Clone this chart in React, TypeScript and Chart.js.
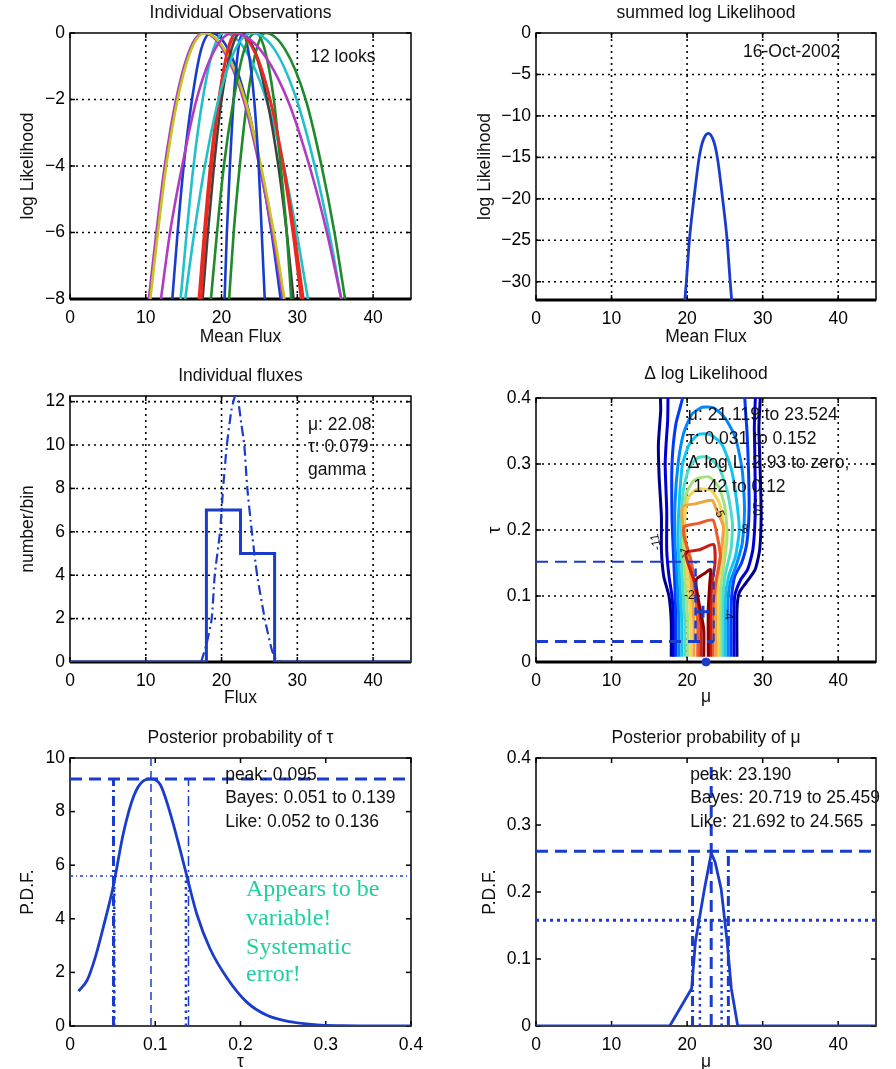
import React, { useEffect, useRef } from 'react';
import { Chart, registerables } from 'chart.js';

Chart.register(...registerables);

const SANS = '"Liberation Sans", Arial, Helvetica, sans-serif';
const SERIF = '"Liberation Serif", "Times New Roman", serif';
const FS = 17.5;
const BLUE = '#1a3ccc';

// ---------- Panel 1: Individual Observations ----------
const obsLevels = [-8, -6, -4, -2, -0.5, 0, -0.5, -2, -4, -6, -8];
const obsColors = ['#1a3ccc', '#1f8a2a', '#e82a20', '#22c0c8', '#b03cc0', '#c4c41e', '#404040', '#1a3ccc', '#1f8a2a', '#e82a20', '#22c0c8', '#b03cc0'];
const obsX = [
  [13.5, 14.2, 15.0, 16.1, 17.3, 18.6, 20.9, 23.2, 25.1, 26.6, 27.8],
  [21.0, 21.6, 22.4, 23.4, 24.6, 25.8, 28.4, 31.1, 33.2, 34.9, 36.3],
  [17.0, 17.7, 18.5, 19.6, 20.9, 22.2, 24.3, 26.4, 28.1, 29.4, 30.5],
  [14.6, 15.4, 16.3, 17.5, 18.9, 20.3, 23.1, 25.9, 28.2, 29.9, 31.4],
  [10.4, 11.4, 12.5, 14.0, 15.8, 17.6, 20.2, 22.9, 25.0, 26.7, 28.1],
  [10.6, 11.6, 12.7, 14.2, 16.0, 17.8, 20.4, 23.1, 25.2, 26.9, 28.3],
  [17.5, 18.2, 19.0, 20.0, 21.3, 22.5, 24.3, 26.0, 27.5, 28.6, 29.5],
  [20.4, 20.7, 21.1, 21.6, 22.2, 22.8, 23.5, 24.3, 24.9, 25.3, 25.7],
  [18.6, 19.4, 20.3, 21.6, 23.0, 24.5, 25.7, 26.9, 27.8, 28.6, 29.2],
  [17.3, 17.9, 18.7, 19.7, 20.8, 22.0, 24.2, 26.4, 28.2, 29.6, 30.8],
  [15.2, 16.4, 17.8, 19.6, 21.8, 24.0, 27.0, 29.9, 32.3, 34.2, 35.8],
  [12.0, 13.2, 14.8, 16.7, 19.1, 21.5, 25.1, 28.7, 31.6, 33.9, 35.8],
];

// ---------- Panel 2: summed log Likelihood ----------
const sumX = [19.7, 19.9, 20.3, 20.9, 21.6, 22.1, 22.8, 23.5, 24.0, 24.7, 25.3, 25.7, 25.9];
const sumY = [-32.2, -30, -25, -20, -15, -13, -12.1, -13, -15, -20, -25, -30, -32.2];

// ---------- Panel 3: Individual fluxes ----------
const histEdges = [18, 22.5, 27];
const histCounts = [7, 5];
const gammaX = [17.3, 18.0, 18.7, 19.1, 19.8, 20.2, 20.7, 21.3, 21.8, 22.2, 22.6, 23.0, 23.4, 24.0, 24.7, 25.7, 26.6, 27.2, 28.0];
const gammaY = [0, 0.8, 2, 4, 6, 8, 10, 11.6, 12.26, 12.0, 11.0, 10, 8, 6, 4, 2, 0.6, 0.1, 0];

// ---------- Panel 4: Delta log Likelihood contours ----------
const contourColors = ['#00008f', '#0000d6', '#0038ff', '#0088ff', '#12c4f2', '#4ddcc8', '#a6e27c', '#f2d45a', '#f4a33c', '#ea5a2c', '#cc1c14', '#8c0000'];
const contour1 = [[17.9, 0.008], [17.9, 0.06], [17.6, 0.10], [16.9, 0.13], [16.6, 0.17], [16.6, 0.22], [16.3, 0.28], [16.2, 0.33], [16.5, 0.38], [16.9, 0.5], [29.2, 0.5], [29.5, 0.35], [29.7, 0.28], [29.8, 0.22], [29.6, 0.17], [29.0, 0.14], [27.8, 0.12], [26.9, 0.105], [26.6, 0.08], [26.6, 0.008]];
const contour2 = [[18.2, 0.008], [18.2, 0.06], [18.0, 0.10], [17.6, 0.13], [17.3, 0.17], [17.3, 0.23], [17.1, 0.30], [17.4, 0.36], [18.4, 0.5], [28.5, 0.5], [28.9, 0.35], [29.0, 0.28], [29.0, 0.22], [28.7, 0.17], [28.0, 0.14], [27.1, 0.125], [26.3, 0.10], [26.2, 0.06], [26.2, 0.008]];
const contour3 = [[18.5, 0.008], [18.5, 0.06], [18.4, 0.11], [18.2, 0.16], [18.0, 0.22], [18.0, 0.30], [18.5, 0.36], [19.4, 0.40], [21.0, 0.5], [26.5, 0.5], [27.8, 0.37], [28.1, 0.30], [28.2, 0.23], [27.9, 0.18], [27.2, 0.15], [26.3, 0.13], [25.9, 0.10], [25.8, 0.06], [25.8, 0.008]];
const contour4 = [[18.9, 0.008], [18.9, 0.06], [18.7, 0.12], [18.4, 0.18], [18.4, 0.24], [18.8, 0.30], [19.5, 0.345], [20.6, 0.375], [22.0, 0.386], [23.5, 0.385], [25.0, 0.37], [26.4, 0.34], [27.3, 0.29], [27.6, 0.23], [27.3, 0.18], [26.6, 0.15], [25.7, 0.12], [25.4, 0.09], [25.4, 0.008]];
const contour5 = [[19.3, 0.008], [19.3, 0.06], [19.0, 0.13], [18.8, 0.19], [19.0, 0.25], [19.4, 0.30], [20.3, 0.33], [21.5, 0.345], [23.0, 0.345], [24.6, 0.33], [25.9, 0.29], [26.6, 0.24], [26.9, 0.20], [26.4, 0.16], [25.5, 0.13], [25.0, 0.09], [25.0, 0.008]];
const contour6 = [[19.7, 0.008], [19.7, 0.06], [19.3, 0.14], [19.2, 0.20], [19.5, 0.26], [20.3, 0.295], [21.5, 0.31], [22.8, 0.31], [24.2, 0.295], [25.3, 0.26], [26.0, 0.21], [25.8, 0.17], [25.0, 0.13], [24.7, 0.09], [24.7, 0.008]];
const contour7 = [[20.1, 0.008], [20.1, 0.06], [19.6, 0.15], [19.5, 0.21], [19.9, 0.255], [20.9, 0.275], [22.0, 0.28], [23.0, 0.28], [24.2, 0.265], [25.0, 0.235], [25.3, 0.19], [24.9, 0.15], [24.4, 0.11], [24.4, 0.008]];
const contour8 = [[20.5, 0.008], [20.5, 0.06], [19.9, 0.16], [19.7, 0.22], [20.2, 0.25], [21.3, 0.262], [22.3, 0.262], [23.2, 0.26], [24.3, 0.24], [24.9, 0.20], [24.7, 0.16], [24.1, 0.12], [24.1, 0.008]];
const contour9 = [[20.9, 0.008], [20.9, 0.06], [20.2, 0.16], [19.5, 0.20], [19.4, 0.235], [21.2, 0.24], [23.3, 0.245], [23.9, 0.23], [24.8, 0.205], [24.4, 0.16], [23.8, 0.12], [23.8, 0.008]];
const contour10 = [[21.4, 0.008], [21.4, 0.06], [20.6, 0.15], [19.6, 0.19], [19.6, 0.205], [21.5, 0.21], [23.4, 0.215], [24.0, 0.19], [24.4, 0.16], [23.8, 0.12], [23.4, 0.08], [23.4, 0.008]];
const contour11 = [[21.8, 0.008], [21.8, 0.06], [21.0, 0.12], [19.8, 0.165], [21.6, 0.17], [23.5, 0.178], [23.7, 0.15], [23.3, 0.12], [23.1, 0.08], [23.1, 0.008]];
const contour12 = [[22.2, 0.008], [22.2, 0.05], [21.4, 0.10], [21.2, 0.125], [22.4, 0.135], [23.1, 0.14], [23.0, 0.12], [22.8, 0.08], [22.8, 0.008]];
const contours = [contour1, contour2, contour3, contour4, contour5, contour6, contour7, contour8, contour9, contour10, contour11, contour12];
const muRange = [21.119, 23.524];
const tauRange = [0.031, 0.152];
const bestFit = [22.1, 0.076];
const zeroFit = [22.5, 0];

// ---------- Panel 5: Posterior of tau ----------
const tauGrid = [0.01, 0.02, 0.03, 0.04, 0.05, 0.063, 0.075, 0.086, 0.095, 0.106, 0.117, 0.129, 0.137, 0.149, 0.164, 0.184, 0.207, 0.231, 0.258, 0.29, 0.32, 0.36, 0.4];
const tauPdf = [1.3, 1.7, 2.6, 3.8, 5.1, 7.25, 8.6, 9.15, 9.22, 9.0, 8.0, 6.6, 5.6, 4.15, 2.9, 1.8, 0.9, 0.4, 0.16, 0.04, 0.01, 0, 0];
const tauPeak = 0.095;
const tauPeakPdf = 9.22;
const tauBayes = [0.051, 0.139];
const tauLike = [0.052, 0.136];
const tauLikeLevel = 5.6;

// ---------- Panel 6: Posterior of mu ----------
const muGrid = [0, 17.7, 20.6, 21.1, 22.3, 23.2, 23.7, 24.5, 25.3, 25.85, 26.7, 45];
const muPdf = [0, 0, 0.056, 0.126, 0.205, 0.258, 0.245, 0.205, 0.126, 0.056, 0, 0];
const muPeak = 23.19;
const muPeakPdf = 0.261;
const muPeakLineTop = 0.387;
const muBayes = [20.719, 25.459];
const muLike = [21.692, 24.565];
const muLikeLevel = 0.158;

// ---------- helpers ----------
type Note = { text: string; x: number; y: number; size?: number; family?: string; color?: string; align?: CanvasTextAlign; rotate?: number };
type PanelCfg = {
  left: number; top: number; width: number; height: number;
  plotL: number; plotT: number; plotR: number; plotB: number;
  xMin: number; xMax: number; yMin: number; yMax: number;
  xTicks: number[]; yTicks: number[];
  grid: boolean; thickBottom: boolean;
  title: string; titleY: number; xLabel: string; xLabelY: number; yLabel: string; yLabelX: number;
  datasets: any[]; notes: Note[];
};

const pts = (xs: number[], ys: number[]) => xs.map((x, i) => ({ x, y: ys[i] }));
const pairs = (p: number[][]) => p.map(([x, y]) => ({ x, y }));
const seg2 = (x1: number, y1: number, x2: number, y2: number) => [{ x: x1, y: y1 }, { x: x2, y: y2 }];
const line = (data: any[], color: string, width: number, dash: number[] = [], extra: any = {}) => ({
  data, showLine: true, borderColor: color, backgroundColor: color, borderWidth: width, borderDash: dash,
  pointRadius: 0, fill: false, tension: 0, ...extra,
});

const DASH = [12, 7];
const DASHDOT = [10, 4, 2, 4];
const DOT = [2.5, 4];

function drawText(ctx: CanvasRenderingContext2D, text: string, x: number, y: number, o: { size?: number; family?: string; color?: string; align?: CanvasTextAlign; rotate?: number } = {}) {
  ctx.save();
  ctx.font = `${o.size ?? FS}px ${o.family ?? SANS}`;
  ctx.fillStyle = o.color ?? '#111';
  ctx.textAlign = o.align ?? 'center';
  ctx.textBaseline = 'middle';
  ctx.translate(x, y);
  if (o.rotate) ctx.rotate(o.rotate);
  ctx.fillText(text, 0, 0);
  ctx.restore();
}

function seg(ctx: CanvasRenderingContext2D, x1: number, y1: number, x2: number, y2: number) {
  ctx.beginPath();
  ctx.moveTo(x1, y1);
  ctx.lineTo(x2, y2);
  ctx.stroke();
}

function makeFrame(c: PanelCfg) {
  return {
    id: 'frame',
    beforeDatasetsDraw(chart: any) {
      const { ctx, chartArea: a } = chart;
      const xs = chart.scales.x;
      const ys = chart.scales.y;
      ctx.save();
      ctx.strokeStyle = '#000';
      if (c.grid) {
        ctx.lineWidth = 1.6;
        ctx.setLineDash([2, 4]);
        c.xTicks.forEach((v) => {
          const p = xs.getPixelForValue(v);
          if (p > a.left + 2 && p < a.right - 2) seg(ctx, p, a.top, p, a.bottom);
        });
        c.yTicks.forEach((v) => {
          const p = ys.getPixelForValue(v);
          if (p > a.top + 2 && p < a.bottom - 2) seg(ctx, a.left, p, a.right, p);
        });
      }
      ctx.setLineDash([]);
      ctx.lineWidth = 1.5;
      c.xTicks.forEach((v) => {
        const p = xs.getPixelForValue(v);
        seg(ctx, p, a.bottom, p, a.bottom - 5);
        seg(ctx, p, a.top, p, a.top + 5);
      });
      c.yTicks.forEach((v) => {
        const p = ys.getPixelForValue(v);
        seg(ctx, a.left, p, a.left + 5, p);
        seg(ctx, a.right, p, a.right - 5, p);
      });
      ctx.strokeRect(a.left, a.top, a.right - a.left, a.bottom - a.top);
      if (c.thickBottom) {
        ctx.lineWidth = 3;
        seg(ctx, a.left, a.bottom, a.right, a.bottom);
      }
      ctx.restore();
    },
    afterDraw(chart: any) {
      const { ctx, chartArea: a } = chart;
      const xs = chart.scales.x;
      const ys = chart.scales.y;
      const cx = (a.left + a.right) / 2;
      const cy = (a.top + a.bottom) / 2;
      drawText(ctx, c.title, cx, c.titleY);
      drawText(ctx, c.xLabel, cx, c.xLabelY);
      drawText(ctx, c.yLabel, c.yLabelX, cy, { rotate: -Math.PI / 2 });
      c.notes.forEach((n) => {
        drawText(ctx, n.text, xs.getPixelForValue(n.x), ys.getPixelForValue(n.y), {
          size: n.size, family: n.family, color: n.color, align: n.align ?? 'left', rotate: n.rotate,
        });
      });
    },
  };
}

function buildConfig(c: PanelCfg): any {
  const fmt = (v: number) => (v < 0 ? '\u2212' + String(-v) : String(v));
  const tickFont = { family: SANS, size: FS };
  return {
    type: 'scatter',
    data: { datasets: c.datasets.map((d, i) => ({ ...d, order: -i })) },
    options: {
      responsive: false,
      animation: false,
      devicePixelRatio: 1,
      events: [],
      layout: { padding: { left: 0, top: c.plotT, right: c.width - c.plotR, bottom: 0 } },
      plugins: { legend: { display: false }, tooltip: { enabled: false }, title: { display: false } },
      scales: {
        x: {
          type: 'linear', position: 'bottom', min: c.xMin, max: c.xMax,
          grid: { display: false, drawTicks: false }, border: { display: false },
          afterBuildTicks: (s: any) => { s.ticks = c.xTicks.map((v) => ({ value: v })); },
          afterFit: (s: any) => { s.height = c.height - c.plotB; },
          ticks: { autoSkip: false, maxRotation: 0, minRotation: 0, padding: 9, color: '#000', font: tickFont, callback: fmt },
        },
        y: {
          type: 'linear', position: 'left', min: c.yMin, max: c.yMax,
          grid: { display: false, drawTicks: false }, border: { display: false },
          afterBuildTicks: (s: any) => { s.ticks = c.yTicks.map((v) => ({ value: v })); },
          afterFit: (s: any) => { s.width = c.plotL; },
          ticks: { autoSkip: false, padding: 5, color: '#000', font: tickFont, callback: fmt },
        },
      },
    },
    plugins: [makeFrame(c)],
  };
}

// ---------- panel configs ----------
const muTicks = [0, 10, 20, 30, 40];

const panel1: PanelCfg = {
  left: 0, top: 0, width: 448, height: 352,
  plotL: 70, plotT: 33, plotR: 411, plotB: 299,
  xMin: 0, xMax: 45, yMin: -8, yMax: 0, xTicks: muTicks, yTicks: [0, -2, -4, -6, -8],
  grid: true, thickBottom: true,
  title: 'Individual Observations', titleY: 13, xLabel: 'Mean Flux', xLabelY: 337, yLabel: 'log Likelihood', yLabelX: 28,
  datasets: obsX.map((xs, i) => line(pts(xs, obsLevels), obsColors[i], 2.6, [], { cubicInterpolationMode: 'monotone' })),
  notes: [{ text: '12 looks', x: 31.7, y: -0.72 }],
};

const panel2: PanelCfg = {
  left: 448, top: 0, width: 448, height: 352,
  plotL: 88, plotT: 33, plotR: 428, plotB: 300,
  xMin: 0, xMax: 45, yMin: -32.2, yMax: 0, xTicks: muTicks, yTicks: [0, -5, -10, -15, -20, -25, -30],
  grid: true, thickBottom: true,
  title: 'summed log Likelihood', titleY: 13, xLabel: 'Mean Flux', xLabelY: 337, yLabel: 'log Likelihood', yLabelX: 37,
  datasets: [line(pts(sumX, sumY), BLUE, 2.8, [], { cubicInterpolationMode: 'monotone' })],
  notes: [{ text: '16-Oct-2002', x: 27.4, y: -2.36 }],
};

const stairs = [
  { x: 0, y: 0 }, { x: histEdges[0], y: 0 },
  { x: histEdges[0], y: histCounts[0] }, { x: histEdges[1], y: histCounts[0] },
  { x: histEdges[1], y: histCounts[1] }, { x: histEdges[2], y: histCounts[1] },
  { x: histEdges[2], y: 0 }, { x: 45, y: 0 },
];

const panel3: PanelCfg = {
  left: 0, top: 352, width: 448, height: 363,
  plotL: 70, plotT: 44, plotR: 411, plotB: 310,
  xMin: 0, xMax: 45, yMin: 0, yMax: 12.26, xTicks: muTicks, yTicks: [0, 2, 4, 6, 8, 10, 12],
  grid: true, thickBottom: true,
  title: 'Individual fluxes', titleY: 24, xLabel: 'Flux', xLabelY: 346, yLabel: 'number/bin', yLabelX: 28,
  datasets: [
    line(pts(gammaX, gammaY), BLUE, 2.2, DASHDOT, { tension: 0.2 }),
    line(stairs, BLUE, 3),
  ],
  notes: [
    { text: '\u03bc: 22.08', x: 31.4, y: 10.92 },
    { text: '\u03c4: 0.079', x: 31.4, y: 9.9 },
    { text: 'gamma', x: 31.4, y: 8.85 },
  ],
};

const small = 12;
const panel4: PanelCfg = {
  left: 448, top: 352, width: 448, height: 363,
  plotL: 88, plotT: 46, plotR: 428, plotB: 310,
  xMin: 0, xMax: 45, yMin: 0, yMax: 0.4, xTicks: muTicks, yTicks: [0, 0.1, 0.2, 0.3, 0.4],
  grid: true, thickBottom: true,
  title: '\u0394 log Likelihood', titleY: 22, xLabel: '\u03bc', xLabelY: 345, yLabel: '\u03c4', yLabelX: 47,
  datasets: [
    ...contours.map((cp, i) => line(pairs(cp), contourColors[i], 3, [], { tension: 0.2, clip: 0 })),
    line(seg2(0, tauRange[1], muRange[1], tauRange[1]), BLUE, 2, DASH),
    line(seg2(0, tauRange[0], muRange[1], tauRange[0]), BLUE, 3, DASH),
    line(seg2(muRange[0], tauRange[0], muRange[0], tauRange[1]), BLUE, 2.5, [8, 5]),
    line(seg2(muRange[1], tauRange[0], muRange[1], tauRange[1]), BLUE, 2, [8, 5]),
    { data: [{ x: bestFit[0], y: bestFit[1] }], pointStyle: 'cross', pointRadius: 6, borderWidth: 3, borderColor: BLUE, backgroundColor: BLUE },
    { data: [{ x: zeroFit[0], y: zeroFit[1] }], pointStyle: 'circle', pointRadius: 4, borderWidth: 1, borderColor: BLUE, backgroundColor: BLUE, clip: false },
  ],
  notes: [
    { text: '\u03bc: 21.119 to 23.524', x: 20.1, y: 0.374 },
    { text: '\u03c4: 0.031 to 0.152', x: 20.1, y: 0.338 },
    { text: '\u0394 log L: 2.93 to zero;', x: 20.1, y: 0.3015 },
    { text: '1.42 to 0.12', x: 20.8, y: 0.265 },
    { text: '-11', x: 15.9, y: 0.182, size: small, align: 'center', rotate: -1.75 },
    { text: '-10', x: 29.2, y: 0.235, size: small, align: 'center', rotate: 1.57 },
    { text: '-5', x: 24.2, y: 0.227, size: small, align: 'center', rotate: 1.2 },
    { text: '-8', x: 27.4, y: 0.2, size: small, align: 'center' },
    { text: '-1', x: 19.6, y: 0.165, size: small, align: 'center', rotate: -1.2 },
    { text: '-2', x: 20.3, y: 0.1, size: small, align: 'center' },
    { text: '-4', x: 25.4, y: 0.072, size: small, align: 'center', rotate: 1.4 },
  ],
};

const panel5: PanelCfg = {
  left: 0, top: 715, width: 448, height: 354,
  plotL: 70, plotT: 43, plotR: 411, plotB: 311,
  xMin: 0, xMax: 0.4, yMin: 0, yMax: 10, xTicks: [0, 0.1, 0.2, 0.3, 0.4], yTicks: [0, 2, 4, 6, 8, 10],
  grid: false, thickBottom: false,
  title: 'Posterior probability of \u03c4', titleY: 23, xLabel: '\u03c4', xLabelY: 347, yLabel: 'P.D.F.', yLabelX: 28,
  datasets: [
    line(seg2(0, tauLikeLevel, 0.4, tauLikeLevel), BLUE, 1.5, [3, 3, 1, 3]),
    line(seg2(tauPeak, 0, tauPeak, 10), BLUE, 1.5, [8, 5]),
    line(seg2(tauBayes[0], 0, tauBayes[0], tauPeakPdf), BLUE, 3, DASHDOT),
    line(seg2(tauBayes[1], 0, tauBayes[1], tauPeakPdf), BLUE, 1.5, DASHDOT),
    line(seg2(tauLike[0], 0, tauLike[0], tauLikeLevel), BLUE, 2.5, DOT),
    line(seg2(tauLike[1], 0, tauLike[1], tauLikeLevel), BLUE, 2.5, DOT),
    line(seg2(0, tauPeakPdf, 0.4, tauPeakPdf), BLUE, 3, DASH),
    line(pts(tauGrid, tauPdf), BLUE, 2.8, [], { cubicInterpolationMode: 'monotone' }),
  ],
  notes: [
    { text: 'peak: 0.095', x: 0.182, y: 9.37 },
    { text: 'Bayes: 0.051 to 0.139', x: 0.182, y: 8.51 },
    { text: 'Like: 0.052 to 0.136', x: 0.182, y: 7.61 },
    { text: 'Appears to be', x: 0.2065, y: 5.07, size: 24, family: SERIF, color: '#1fd09e' },
    { text: 'variable!', x: 0.2065, y: 3.99, size: 24, family: SERIF, color: '#1fd09e' },
    { text: 'Systematic', x: 0.2065, y: 2.91, size: 24, family: SERIF, color: '#1fd09e' },
    { text: 'error!', x: 0.2065, y: 1.90, size: 24, family: SERIF, color: '#1fd09e' },
  ],
};

const panel6: PanelCfg = {
  left: 448, top: 715, width: 448, height: 354,
  plotL: 88, plotT: 43, plotR: 428, plotB: 311,
  xMin: 0, xMax: 45, yMin: 0, yMax: 0.4, xTicks: muTicks, yTicks: [0, 0.1, 0.2, 0.3, 0.4],
  grid: false, thickBottom: false,
  title: 'Posterior probability of \u03bc', titleY: 23, xLabel: '\u03bc', xLabelY: 347, yLabel: 'P.D.F.', yLabelX: 42,
  datasets: [
    line(seg2(0, muLikeLevel, 45, muLikeLevel), BLUE, 3, [3, 4]),
    line(seg2(muLike[0], 0, muLike[0], muLikeLevel), BLUE, 2.5, DOT),
    line(seg2(muLike[1], 0, muLike[1], muLikeLevel), BLUE, 2.5, DOT),
    line(seg2(muBayes[0], 0, muBayes[0], muPeakPdf), BLUE, 3, DASHDOT),
    line(seg2(muBayes[1], 0, muBayes[1], muPeakPdf), BLUE, 3, DASHDOT),
    line(seg2(muPeak, 0, muPeak, muPeakLineTop), BLUE, 3, DASH),
    line(seg2(0, muPeakPdf, 45, muPeakPdf), BLUE, 3, DASH),
    line(pts(muGrid, muPdf), BLUE, 2.8),
  ],
  notes: [
    { text: 'peak: 23.190', x: 20.4, y: 0.3746 },
    { text: 'Bayes: 20.719 to 25.459', x: 20.4, y: 0.340 },
    { text: 'Like: 21.692 to 24.565', x: 20.4, y: 0.3045 },
  ],
};

const panels = [panel1, panel2, panel3, panel4, panel5, panel6];

function Panel({ cfg }: { cfg: PanelCfg }) {
  const ref = useRef<HTMLCanvasElement>(null);
  useEffect(() => {
    if (!ref.current) return;
    const chart = new Chart(ref.current, buildConfig(cfg));
    return () => chart.destroy();
  }, [cfg]);
  return (
    <canvas
      ref={ref}
      width={cfg.width}
      height={cfg.height}
      style={{ position: 'absolute', left: cfg.left, top: cfg.top, width: cfg.width, height: cfg.height }}
    />
  );
}

export default function App() {
  return (
    <div style={{ position: 'absolute', left: 0, top: 0, width: 896, height: 1069, background: '#fff', overflow: 'hidden' }}>
      {panels.map((p, i) => (
        <Panel key={i} cfg={p} />
      ))}
    </div>
  );
}
